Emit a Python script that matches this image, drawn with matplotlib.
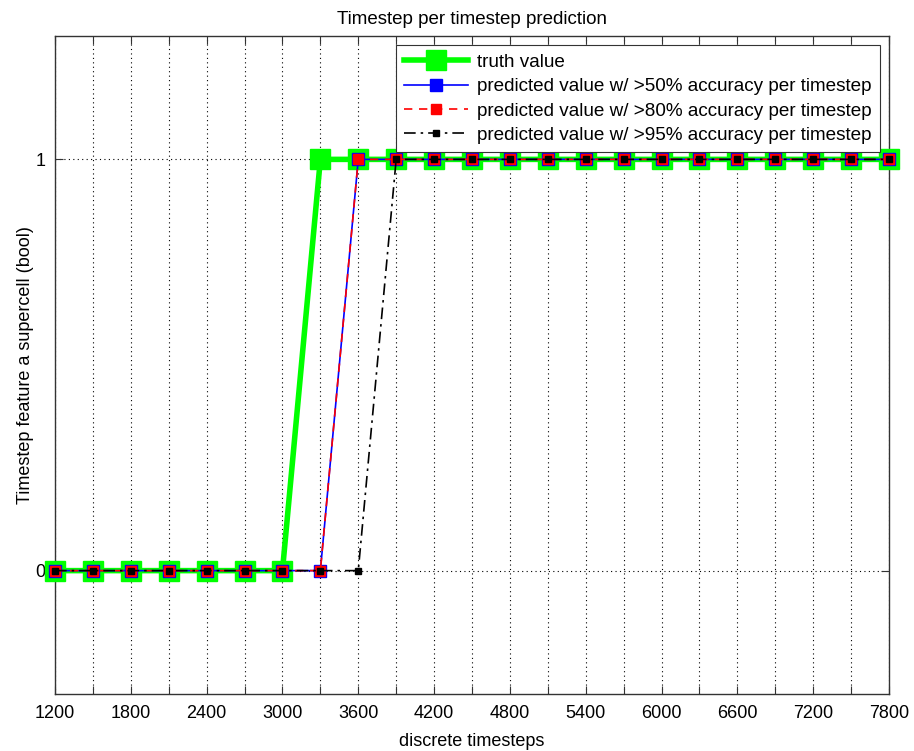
import matplotlib
matplotlib.use("Agg")
import matplotlib.pyplot as plt
import numpy as np

plt.rcParams['font.family'] = ['Liberation Sans', 'DejaVu Sans']

timesteps = list(range(1200, 7801, 300))
truth = [0, 0, 0, 0, 0, 0, 0, 1, 1, 1, 1, 1, 1, 1, 1, 1, 1, 1, 1, 1, 1, 1, 1]
pred50 = [0, 0, 0, 0, 0, 0, 0, 0, 1, 1, 1, 1, 1, 1, 1, 1, 1, 1, 1, 1, 1, 1, 1]
pred80 = [0, 0, 0, 0, 0, 0, 0, 0, 1, 1, 1, 1, 1, 1, 1, 1, 1, 1, 1, 1, 1, 1, 1]
pred95 = [0, 0, 0, 0, 0, 0, 0, 0, 0, 1, 1, 1, 1, 1, 1, 1, 1, 1, 1, 1, 1, 1, 1]
x_labels = list(range(1200, 7801, 600))
y_ticks = [0, 1]

W, H = 914, 751
fig = plt.figure(figsize=(W / 100, H / 100), dpi=100)
ax = fig.add_axes([55 / W, (H - 694) / H, (889 - 55) / W, (694 - 36) / H])

ax.plot(timesteps, truth, color='#00ff00', lw=4, marker='s', ms=14,
        mfc='#00ff00', mec='#00ff00', label='truth value', zorder=3, clip_on=False)
ax.plot(timesteps, pred50, color='blue', lw=1.2, ls='-', marker='s', ms=8,
        mfc='blue', mec='blue',
        label='predicted value w/ >50% accuracy per timestep', zorder=4, clip_on=False)
ax.plot(timesteps, pred80, color='red', lw=1.2, ls=(0, (5, 4)), marker='s', ms=6.5,
        mfc='red', mec='red',
        label='predicted value w/ >80% accuracy per timestep', zorder=5, clip_on=False)
ax.plot(timesteps, pred95, color='black', lw=1.2, ls=(0, (7, 3, 1.5, 3)), marker='s', ms=5,
        mfc='black', mec='black',
        label='predicted value w/ >95% accuracy per timestep', zorder=6, clip_on=False)

ax.set_xlim(1200, 7800)
ax.set_ylim(-0.3, 1.3)
ax.set_xticks(x_labels)
ax.set_xticks(timesteps, minor=True)
ax.set_yticks(y_ticks)
ax.set_yticklabels([str(v) for v in y_ticks])
ax.tick_params(which='both', direction='in', top=True, right=True, labelsize=13,
               length=6, width=0.8, color='#333333', pad=8)
ax.tick_params(axis='y', pad=7)
ax.grid(True, which='both', axis='x', color='black', ls=(0, (1, 3)), lw=0.8)
ax.grid(True, which='major', axis='y', color='black', ls=(0, (1, 3)), lw=0.8)
for s in ax.spines.values():
    s.set_color('#333333')
    s.set_linewidth(1.0)

ax.set_title('Timestep per timestep prediction', fontsize=13.5, pad=9)
ax.set_xlabel('discrete timesteps', fontsize=13, labelpad=8)
ax.set_ylabel('Timestep feature a supercell (bool)', fontsize=13, labelpad=1)

leg = ax.legend(loc='upper right', bbox_to_anchor=(880 / 834 - 55 / 834, 1 - 9 / 658),
                fontsize=13.6, frameon=True, fancybox=False, edgecolor='#333333',
                framealpha=1, handlelength=3.4, handletextpad=0.45, borderpad=0.45,
                labelspacing=0.38, borderaxespad=0)
leg.get_frame().set_linewidth(0.8)

fig.savefig('out.png', dpi=100)
